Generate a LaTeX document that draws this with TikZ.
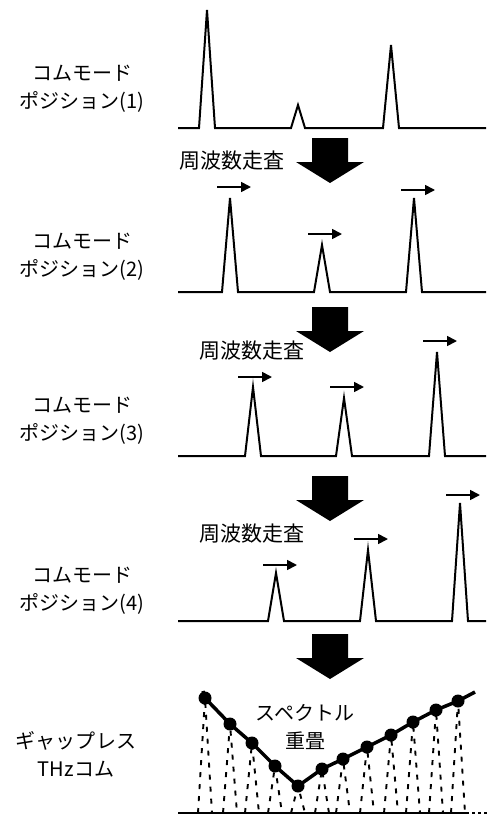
\documentclass[tikz,border=0pt]{standalone}
\usepackage{fontspec}
\setmainfont{Noto Sans CJK JP}
\usetikzlibrary{arrows.meta}
\usetikzlibrary{positioning}

\begin{document}
\begin{tikzpicture}[x=1pt,y=-1pt,>={Triangle[length=10pt,width=10pt]},
                    label node/.style={align=center,inner sep=0pt,
                                       font=\fontsize{20}{28}\selectfont},
                    scan node/.style={inner sep=0pt,font=\fontsize{21}{24}\selectfont},
                    spectrum/.style={line width=2pt},
                    shift arrow/.style={->,line width=1.7pt},
                    comb peak/.style={line width=1.9pt,dash pattern=on 5pt off 7pt},
                    comb dot/.style={circle,fill=black,inner sep=0pt,minimum size=13pt}]

  \useasboundingbox (0,0) rectangle (489,816);

  \node[label node] (mode1) at (82,89) {コムモード\\ポジション(1)};
  \node[label node] (mode2) at (82,257) {コムモード\\ポジション(2)};
  \node[label node] (mode3) at (82,421) {コムモード\\ポジション(3)};
  \node[label node] (mode4) at (82,591) {コムモード\\ポジション(4)};
  \node[label node] (gapless) at (76,754) {ギャップレス\\THzコム};

  \draw[spectrum] (178,128) -- (199,128) -- (207,10) -- (215,128) -- (291,128) -- (298,105)
    -- (305,128) -- (383,128) -- (391,45) -- (399,128) -- (486,128);
  \draw[spectrum] (178,292) -- (222,292) -- (230,198) -- (238,292) -- (314,292) -- (322,245)
    -- (330,292) -- (406,292) -- (414,198) -- (422,292) -- (486,292);
  \draw[spectrum] (178,456) -- (245,456) -- (253,387) -- (261,456) -- (336,456) -- (344,398)
    -- (352,456) -- (429,456) -- (437,352) -- (445,456) -- (486,456);
  \draw[spectrum] (178,621) -- (268,621) -- (276,573) -- (284,621) -- (360,621) -- (368,550)
    -- (376,621) -- (452,621) -- (460,503) -- (468,621) -- (486,621);

  \foreach \y in {138,307,476,634}
    \fill (312,\y) -- (348,\y) -- (348,\y+24) -- (364,\y+24) -- (330,\y+45)
      -- (296,\y+24) -- (312,\y+24) -- cycle;

  \node[scan node] (scan1) at (232,161) {周波数走査};
  \node[scan node] (scan2) at (252,351) {周波数走査};
  \node[scan node] (scan3) at (252,534) {周波数走査};

  \foreach \x/\y in {217/187,308/234,401/190,238/377,330/387,423/341,263/565,354/539,446/495}
    \draw[shift arrow] (\x,\y) -- ++(34,0);

  \draw[spectrum] (178,813) -- (466,813);
  \draw[spectrum,dashed] (466,813) -- (489,813);

  \foreach \x/\y [count=\i] in {205/698,230/724,252/743,275/766,298/786,322/769,
                                343/759,367/747,391/735,413/722,436/710,458/701} {
    \draw[comb peak] (\x-7,813) -- (\x,\y) -- (\x+7,813);
    \node[comb dot] (d\i) at (\x,\y) {};
  }
  \coordinate (start) at (203,691);
  \coordinate (end) at (475,692);
  \draw[line width=3.5pt] (start) -- (d1.center)
    \foreach \i in {2,...,12} { -- (d\i.center) } -- (end);

  \node[label node] (overlap) at (305,727) {スペクトル\\重畳};
\end{tikzpicture}
\end{document}
